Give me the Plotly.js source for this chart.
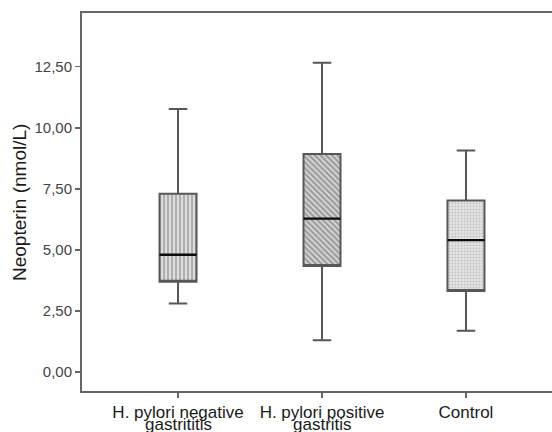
<!DOCTYPE html>
<html>
<head>
<meta charset="utf-8">
<script src="https://cdn.plot.ly/plotly-3.0.1.min.js"></script>
<style>
html,body{margin:0;padding:0;overflow:hidden;background:#fff;width:552px;height:432px;}
#wrap{width:552px;height:432px;overflow:hidden;position:relative;}
#chart{width:560px;height:432px;position:absolute;left:0;top:0;}
</style>
</head>
<body>
<div id="wrap"><div id="chart"></div></div>
<script>
var categories = ["H. pylori negative gastrititis", "H. pylori positive gastritis", "Control"];
var labelLine1 = ["H. pylori negative", "H. pylori positive", "Control"];
var labelLine2 = ["gastrititis", "gastritis", ""];
var lowerWhisker = [2.80, 1.30, 1.69];
var q1Values = [3.69, 4.34, 3.32];
var medianValues = [4.80, 6.28, 5.40];
var q3Values = [7.30, 8.93, 7.02];
var upperWhisker = [10.77, 12.66, 9.07];
var yTickVals = [0, 2.5, 5, 7.5, 10, 12.5];
var yTickText = ["0,00", "2,50", "5,00", "7,50", "10,00", "12,50"];
var patternShapes = ["|", "\\", "."];
var yTitle = "Neopterin (nmol/L)";

var boxW = 0.257;
var heights = q3Values.map(function(v, i){ return v - q1Values[i]; });
var patternStyles = [
  {size: 4, solidity: 0.4, fgcolor: "#6a6a6a", bgcolor: "#dcdcdc"},
  {size: 4, solidity: 0.5, fgcolor: "#5a5a5a", bgcolor: "#d6d6d6"},
  {size: 3, solidity: 0.35, fgcolor: "#a0a0a0", bgcolor: "#e4e4e4"}
];

var traces = [];
for (var i = 0; i < categories.length; i++) {
  var st = patternStyles[i];
  traces.push({
    type: "bar",
    x: [categories[i]],
    y: [heights[i]],
    base: [q1Values[i]],
    width: boxW,
    marker: {
      color: st.bgcolor,
      pattern: {shape: patternShapes[i], size: st.size, solidity: st.solidity,
                fgcolor: st.fgcolor, bgcolor: st.bgcolor, fillmode: "overlay"},
      line: {width: 0}
    },
    hoverinfo: "skip",
    showlegend: false
  });
}
traces.push({
  type: "box",
  x: categories,
  q1: q1Values,
  median: q1Values,
  q3: q3Values,
  lowerfence: lowerWhisker,
  upperfence: upperWhisker,
  width: boxW,
  whiskerwidth: 0.5,
  fillcolor: "rgba(0,0,0,0)",
  line: {color: "#575757", width: 2},
  hoverinfo: "skip",
  showlegend: false
});
traces.push({
  type: "box",
  x: categories,
  q1: medianValues,
  median: medianValues,
  q3: medianValues,
  lowerfence: medianValues,
  upperfence: medianValues,
  width: boxW,
  whiskerwidth: 0,
  fillcolor: "rgba(0,0,0,0)",
  line: {color: "#0a0a0a", width: 2.4},
  hoverinfo: "skip",
  showlegend: false
});

var plotW = 560 - 82;
var annotations = [{
  text: yTitle,
  xref: "paper", yref: "paper",
  x: (19 - 82) / plotW, y: 0.5,
  xanchor: "center", yanchor: "middle",
  textangle: -90,
  showarrow: false,
  font: {size: 19, color: "#1a1a1a"}
}];
for (var j = 0; j < categories.length; j++) {
  if (!labelLine2[j]) continue;
  annotations.push({
    text: labelLine2[j],
    xref: "x", yref: "paper",
    x: categories[j], y: 0,
    xanchor: "center", yanchor: "top",
    yshift: -22,
    showarrow: false,
    font: {size: 17, color: "#1a1a1a"}
  });
}

var layout = {
  width: 560,
  height: 432,
  margin: {l: 82, r: 0, t: 13, b: 41},
  paper_bgcolor: "#ffffff",
  plot_bgcolor: "#ffffff",
  barmode: "overlay",
  boxmode: "overlay",
  showlegend: false,
  font: {family: "Liberation Sans, Arial, sans-serif", color: "#1a1a1a"},
  xaxis: {
    type: "category",
    range: [-0.667, 2.653],
    tickvals: categories,
    ticktext: labelLine1,
    showgrid: false,
    zeroline: false,
    showline: true,
    mirror: true,
    linecolor: "#666",
    linewidth: 2,
    ticks: "outside",
    ticklen: 5,
    tickwidth: 1.5,
    tickcolor: "#666",
    tickfont: {size: 17, color: "#1a1a1a"},
    fixedrange: true
  },
  yaxis: {
    range: [-0.78, 14.7],
    tickvals: yTickVals,
    ticktext: yTickText,
    showgrid: false,
    zeroline: false,
    showline: true,
    mirror: false,
    linecolor: "#666",
    linewidth: 2,
    ticks: "outside",
    ticklen: 5,
    tickwidth: 1.5,
    tickcolor: "#666",
    tickfont: {size: 15, color: "#444"},
    fixedrange: true
  },
  annotations: annotations
};

Plotly.newPlot("chart", traces, layout, {staticPlot: true, displayModeBar: false});
</script>
</body>
</html>
